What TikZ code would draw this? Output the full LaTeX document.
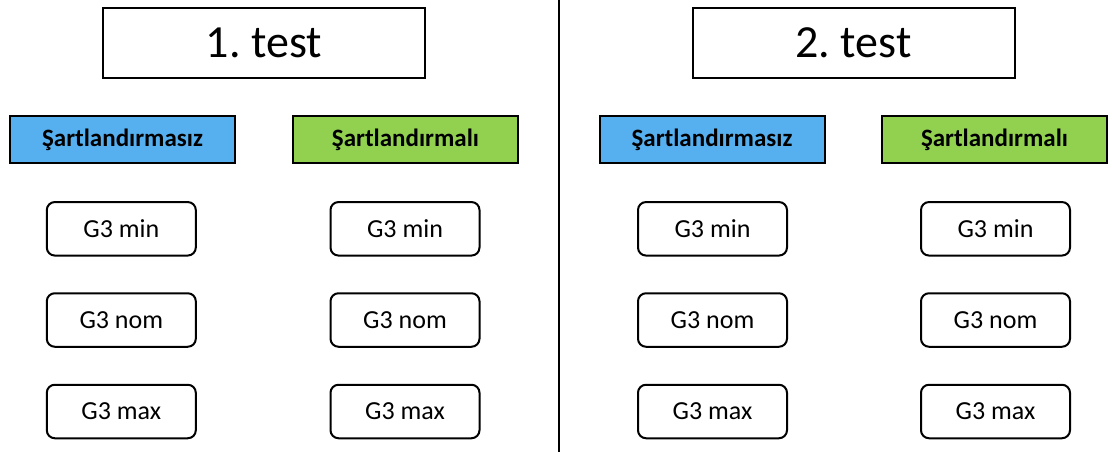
\documentclass[tikz,border=0pt]{standalone}
\usepackage{fontspec}
\setmainfont{Carlito}
\frenchspacing
\definecolor{hdrblue}{RGB}{86,176,240}
\definecolor{hdrgreen}{RGB}{146,208,80}
\begin{document}
\begin{tikzpicture}[x=1pt,y=-1pt,
  titlebox/.style={draw=black,line width=2pt,fill=white,minimum width=322pt,minimum height=70pt,inner sep=0pt,font=\fontsize{46}{50}\selectfont},
  hdrbox/.style={draw=black,line width=2pt,minimum width=225pt,minimum height=47pt,inner sep=0pt,font=\bfseries\fontsize{25}{28}\selectfont},
  gbox/.style={draw=black,line width=2pt,rounded corners=8pt,fill=white,minimum width=149pt,minimum height=53.5pt,inner sep=0pt,font=\fontsize{26}{30}\selectfont}]
\useasboundingbox (0,0) rectangle (1112,452);
\coordinate (divtop) at (559,0);
\coordinate (divbot) at (559,452);
\draw[line width=1.3pt,black] (divtop) -- (divbot);
% left half
\node[titlebox] (t1) at (264,42.8) {1. test};
\node[hdrbox,fill=hdrblue] (b1) at (122.5,139.8) {Şartlandırmasız};
\node[hdrbox,fill=hdrgreen] (g1) at (405.5,139.8) {Şartlandırmalı};
\node[gbox] (b1min) at (121.3,228.8) {G3 min};
\node[gbox] (b1nom) at (121.3,320) {G3 nom};
\node[gbox] (b1max) at (121.3,411.5) {G3 max};
\node[gbox] (g1min) at (405,228.8) {G3 min};
\node[gbox] (g1nom) at (405,320) {G3 nom};
\node[gbox] (g1max) at (405,411.5) {G3 max};
% right half
\node[titlebox] (t2) at (853.5,42.8) {2. test};
\node[hdrbox,fill=hdrblue] (b2) at (712,139.8) {Şartlandırmasız};
\node[hdrbox,fill=hdrgreen] (g2) at (994.5,139.8) {Şartlandırmalı};
\node[gbox] (b2min) at (712.5,228.8) {G3 min};
\node[gbox] (b2nom) at (712.5,320) {G3 nom};
\node[gbox] (b2max) at (712.5,411.5) {G3 max};
\node[gbox] (g2min) at (995.5,228.8) {G3 min};
\node[gbox] (g2nom) at (995.5,320) {G3 nom};
\node[gbox] (g2max) at (995.5,411.5) {G3 max};
\end{tikzpicture}
\end{document}
